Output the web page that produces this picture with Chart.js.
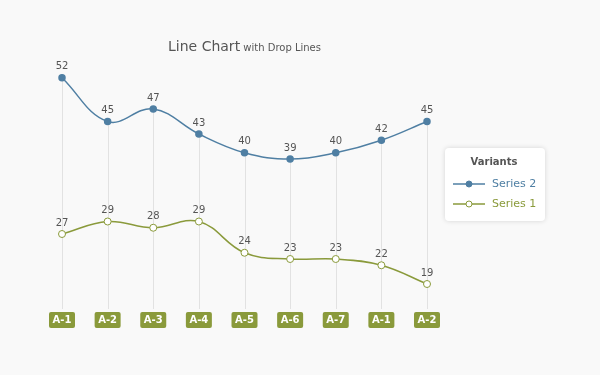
<!DOCTYPE html>
<html>
<head>
<meta charset="utf-8">
<script src="https://cdn.jsdelivr.net/npm/chart.js@4/dist/chart.umd.min.js"></script>
<style>
  body { margin: 0; background: #f9f9f9; }
  canvas { display: block; }
</style>
</head>
<body>
<canvas id="chart" width="600" height="375"></canvas>
<script>
const categories = ['A-1', 'A-2', 'A-3', 'A-4', 'A-5', 'A-6', 'A-7', 'A-1', 'A-2'];
const series2 = [52, 45, 47, 43, 40, 39, 40, 42, 45];
const series1 = [27, 29, 28, 29, 24, 23, 23, 22, 19];

const FONT = '"DejaVu Sans", Verdana, sans-serif';
const BLUE = '#4f7fa3';
const OLIVE = '#8a9a3b';

// vertical lines from the highest point down to the axis
const dropLines = {
    id: 'dropLines',
    beforeDatasetsDraw(chart) {
        const ctx = chart.ctx;
        const bottom = chart.chartArea.bottom;
        ctx.save();
        ctx.strokeStyle = '#e2e2e2';
        ctx.lineWidth = 1;
        categories.forEach((c, i) => {
            let top = Infinity;
            chart.data.datasets.forEach((ds, d) => {
                const pt = chart.getDatasetMeta(d).data[i];
                if (pt.y < top) top = pt.y;
            });
            const x = Math.round(chart.getDatasetMeta(0).data[i].x) + 0.5;
            ctx.beginPath();
            ctx.moveTo(x, top);
            ctx.lineTo(x, bottom);
            ctx.stroke();
        });
        ctx.restore();
    }
};

// value labels, category boxes, title and legend
const decorations = {
    id: 'decorations',
    afterDatasetsDraw(chart) {
        const ctx = chart.ctx;
        const area = chart.chartArea;
        ctx.save();

        // value labels
        ctx.font = '10px ' + FONT;
        ctx.fillStyle = '#555';
        ctx.textAlign = 'center';
        ctx.textBaseline = 'bottom';
        chart.data.datasets.forEach((ds, d) => {
            chart.getDatasetMeta(d).data.forEach((pt, i) => {
                ctx.fillText(ds.data[i], pt.x, pt.y - 6);
            });
        });

        // category boxes
        const xScale = chart.scales.x;
        ctx.font = 'bold 10px ' + FONT;
        ctx.textBaseline = 'middle';
        categories.forEach((c, i) => {
            const x = xScale.getPixelForValue(i);
            ctx.fillStyle = OLIVE;
            ctx.beginPath();
            ctx.roundRect(x - 13, 312, 26, 16, 2);
            ctx.fill();
            ctx.fillStyle = '#fff';
            ctx.fillText(c, x, 320.5);
        });

        // title
        const t1 = 'Line Chart', t2 = ' with Drop Lines';
        ctx.textBaseline = 'alphabetic';
        ctx.textAlign = 'left';
        ctx.font = '14px ' + FONT;
        const w1 = ctx.measureText(t1).width;
        ctx.font = '10px ' + FONT;
        const w2 = ctx.measureText(t2).width;
        let tx = (area.left + area.right) / 2 - (w1 + w2) / 2;
        ctx.fillStyle = '#555';
        ctx.font = '14px ' + FONT;
        ctx.fillText(t1, tx, 51);
        ctx.font = '10px ' + FONT;
        ctx.fillText(t2, tx + w1, 51);

        // legend
        ctx.shadowColor = 'rgba(0,0,0,0.15)';
        ctx.shadowBlur = 5;
        ctx.fillStyle = '#fff';
        ctx.beginPath();
        ctx.roundRect(445, 148, 100, 73, 4);
        ctx.fill();
        ctx.shadowColor = 'transparent';
        ctx.textAlign = 'center';
        ctx.textBaseline = 'middle';
        ctx.font = 'bold 10px ' + FONT;
        ctx.fillStyle = '#555';
        ctx.fillText('Variants', 494, 162);
        ctx.textAlign = 'left';
        ctx.font = '11px ' + FONT;
        chart.data.datasets.forEach((ds, d) => {
            const y = 184 + d * 20;
            ctx.strokeStyle = ds.borderColor;
            ctx.lineWidth = 1.5;
            ctx.beginPath();
            ctx.moveTo(453, y);
            ctx.lineTo(485, y);
            ctx.stroke();
            ctx.beginPath();
            ctx.arc(469, y, 3, 0, Math.PI * 2);
            ctx.fillStyle = ds.pointBackgroundColor;
            ctx.fill();
            ctx.lineWidth = 1;
            ctx.stroke();
            ctx.fillStyle = ds.borderColor;
            ctx.fillText(ds.label, 492, y + 0.5);
        });
        ctx.restore();
    }
};

new Chart(document.getElementById('chart'), {
    type: 'line',
    data: {
        labels: categories,
        datasets: [
            {
                label: 'Series 2',
                data: series2,
                borderColor: BLUE,
                backgroundColor: BLUE,
                pointBackgroundColor: BLUE,
                pointBorderColor: BLUE,
                borderWidth: 1.5,
                pointRadius: 3,
                tension: 0.4,
                clip: false
            },
            {
                label: 'Series 1',
                data: series1,
                borderColor: OLIVE,
                backgroundColor: '#fff',
                pointBackgroundColor: '#fff',
                pointBorderColor: OLIVE,
                borderWidth: 1.5,
                pointRadius: 3.5,
                pointBorderWidth: 1,
                tension: 0.4,
                clip: false
            }
        ]
    },
    options: {
        responsive: false,
        animation: false,
        layout: { padding: { left: 62, right: 173, top: 59, bottom: 66 } },
        scales: {
            x: { display: false },
            y: { display: false, min: 15, max: 55 }
        },
        plugins: {
            legend: { display: false },
            title: { display: false },
            tooltip: { enabled: false }
        }
    },
    plugins: [dropLines, decorations]
});
</script>
</body>
</html>
